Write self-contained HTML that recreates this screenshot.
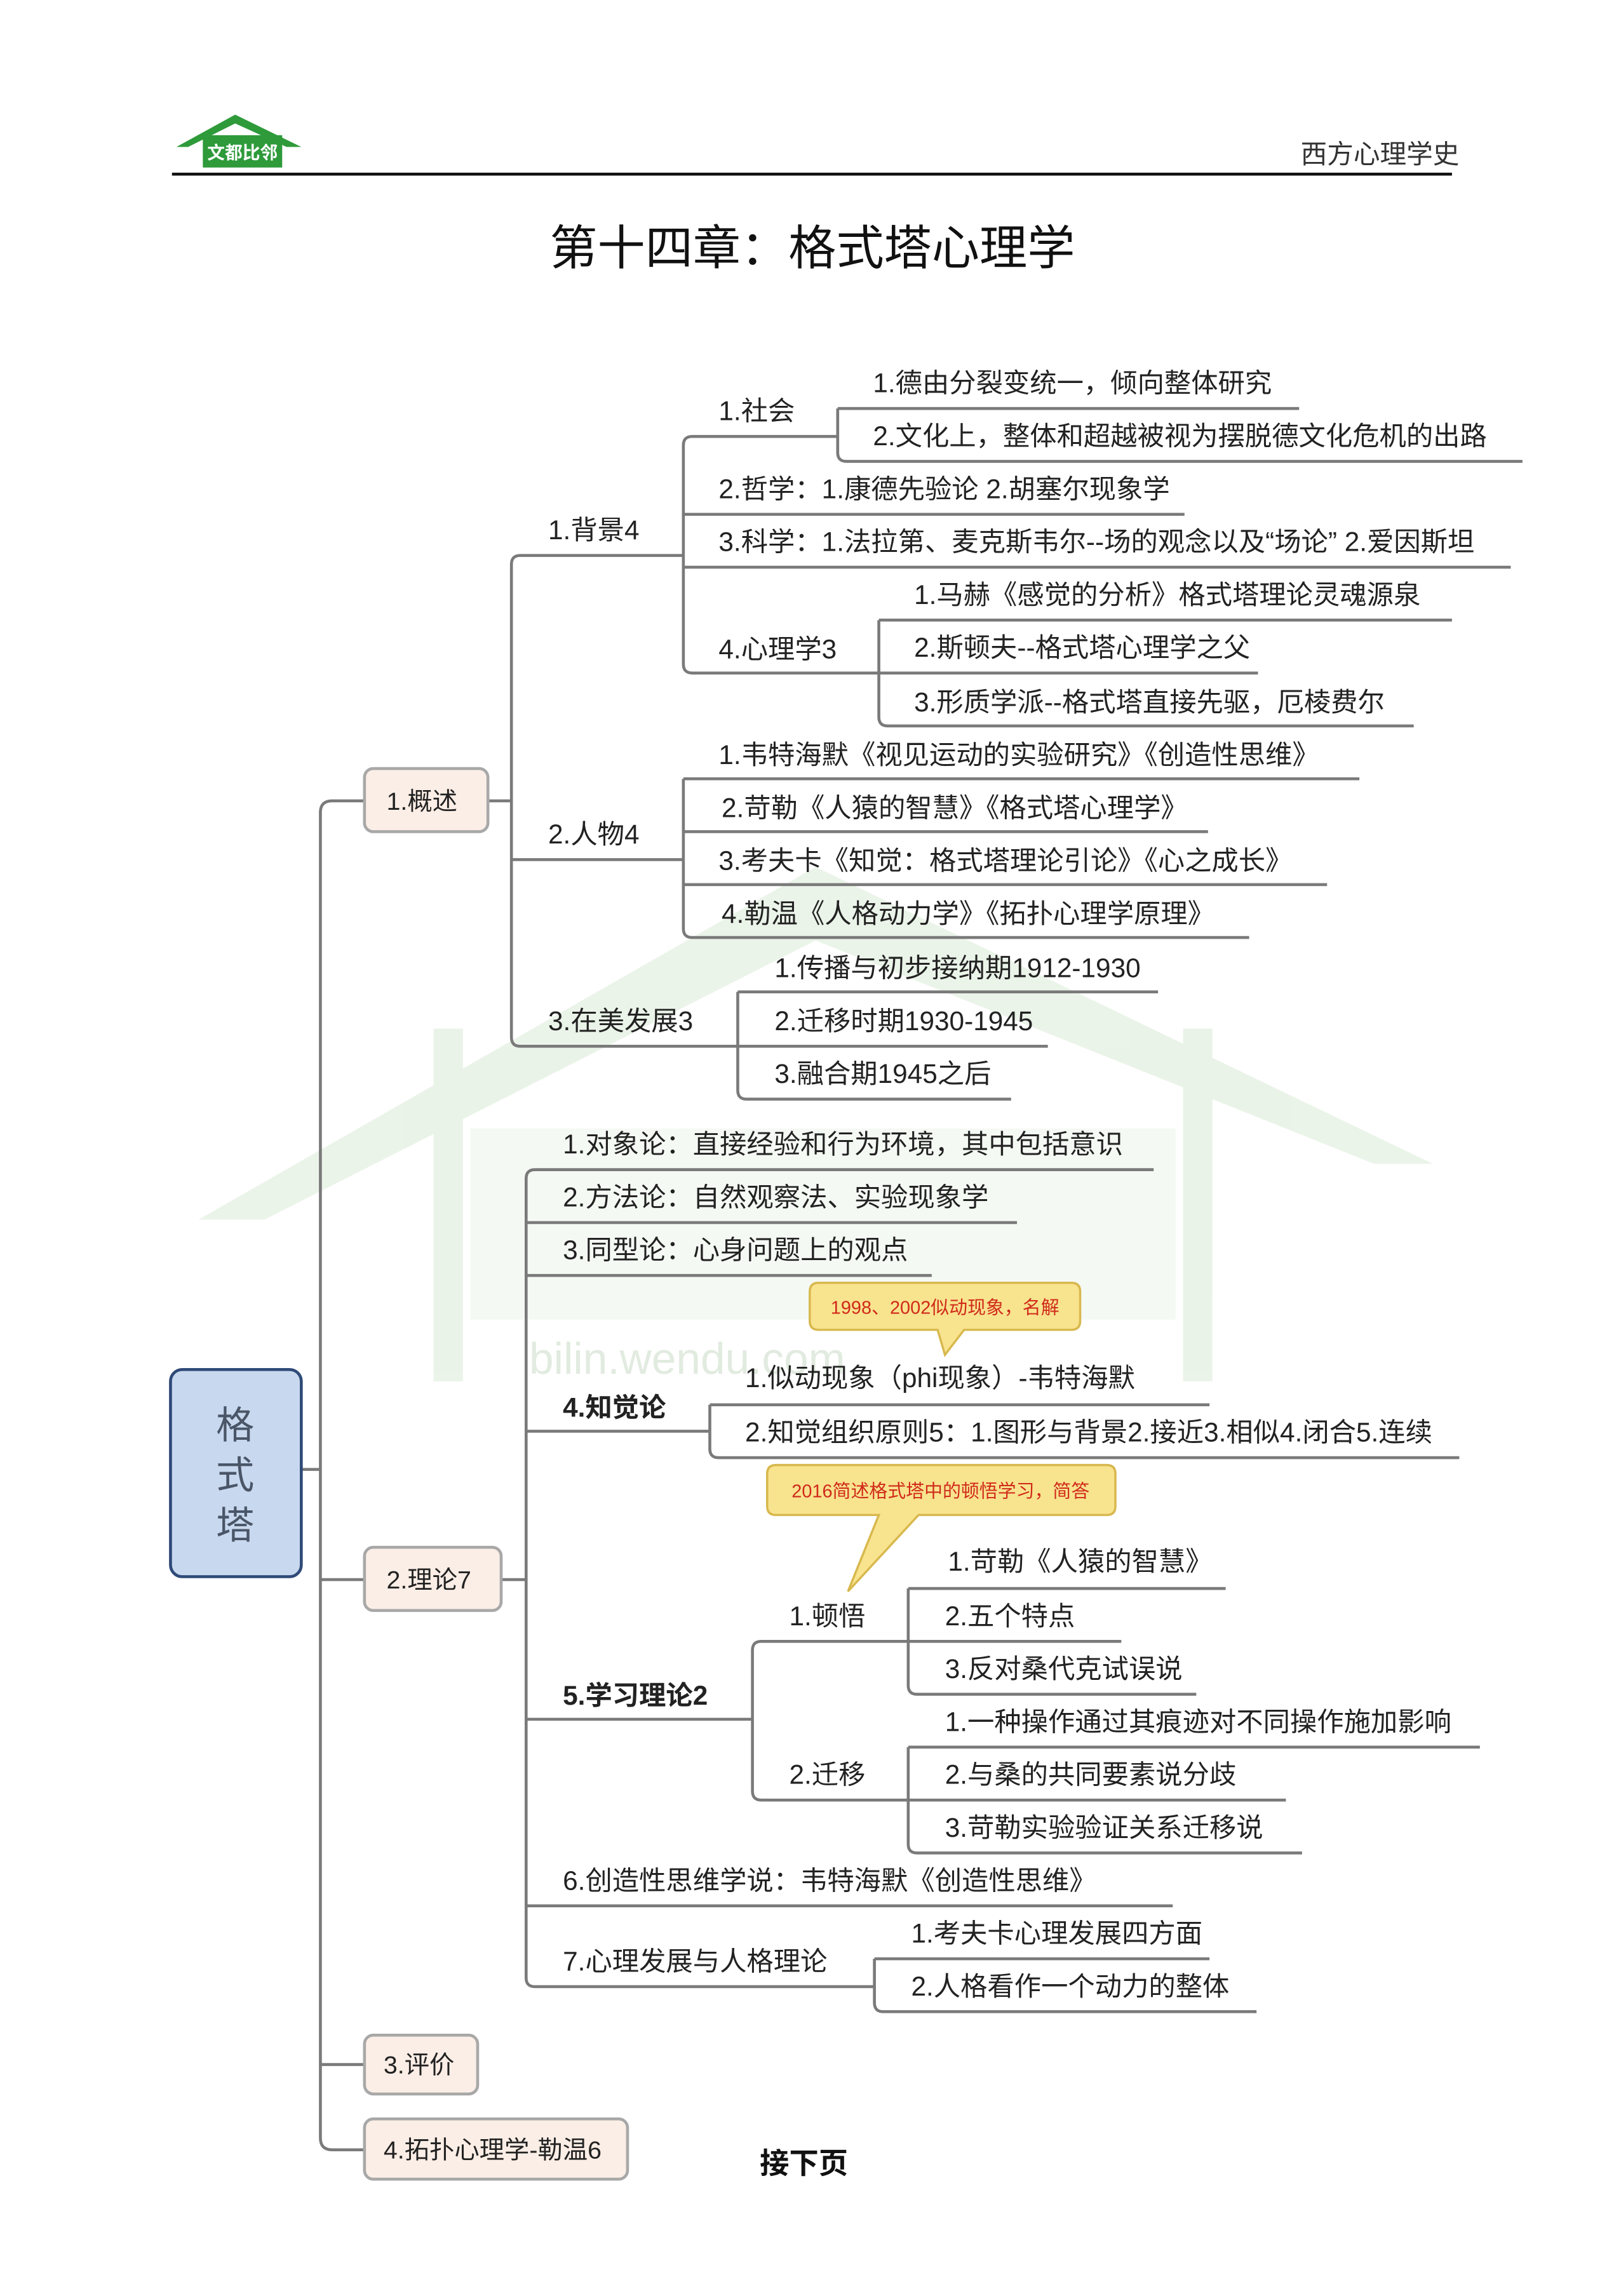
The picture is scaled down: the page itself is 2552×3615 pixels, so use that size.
<!DOCTYPE html>
<html><head><meta charset="utf-8"><style>
html,body{margin:0;padding:0;background:#fff}
svg{display:block}
text{font-family:"Liberation Sans","Noto Sans CJK SC",sans-serif;fill:#222}
</style></head><body>
<svg width="2552" height="3615" viewBox="0 0 1103 1562.5" xmlns="http://www.w3.org/2000/svg">
<rect width="1103" height="1562.5" fill="#fff"/>
<!-- watermark -->
<g opacity="0.11" fill="#4a9a3a">
<polygon points="135,830 555,590 975,792 935,792 555,640 180,830"/>
<rect x="295" y="700" width="20" height="240"/>
<rect x="805" y="700" width="20" height="240"/>
<rect x="320" y="768" width="480" height="130" opacity="0.5"/>
</g>
<text x="360" y="935" font-size="30" style="fill:#e2ebe0" font-family="Liberation Sans">bilin.wendu.com</text>
<!-- logo -->
<polygon points="120,100 160,78 205,100 195,100 160,84 128,100" fill="#2e9a3a"/>
<rect x="138" y="92" width="54" height="22" fill="#2e9a3a"/>
<text x="141" y="108" font-size="12" style="fill:#fff;font-weight:bold">文都比邻</text>
<!-- header -->
<line x1="117" y1="118.5" x2="988" y2="118.5" stroke="#111" stroke-width="2"/>
<text x="885" y="111" font-size="18" style="fill:#333">西方心理学史</text>
<text x="374" y="180" font-size="32.5" style="fill:#111">第十四章：格式塔心理学</text>

<g stroke="#7a7a7a" stroke-width="2" fill="none">
<line x1="205" y1="1000" x2="218" y2="1000"/>
<path d="M248,545 H226 Q218,545 218,553 V1455 Q218,1463 226,1463 H248"/>
<line x1="218" y1="1075" x2="248" y2="1075"/>
<line x1="218" y1="1405" x2="248" y2="1405"/>
<line x1="332" y1="545" x2="348" y2="545"/>
<path d="M465,378 H354 Q348,378 348,384 V706 Q348,712 354,712 H502"/>
<line x1="348" y1="585" x2="465" y2="585"/>
<path d="M570,297 H471 Q465,297 465,303 V452 Q465,458 471,458 H598"/>
<line x1="465" y1="350" x2="806" y2="350"/>
<line x1="465" y1="386" x2="1028" y2="386"/>
<line x1="570" y1="278" x2="884" y2="278"/>
<path d="M570,278 V308 Q570,314 576,314 H1036"/>
<line x1="598" y1="422" x2="988" y2="422"/>
<line x1="598" y1="458" x2="856" y2="458"/>
<path d="M598,422 V488 Q598,494 604,494 H962"/>
<line x1="465" y1="530" x2="925" y2="530"/>
<path d="M465,530 V632 Q465,638 471,638 H850"/>
<line x1="465" y1="566" x2="822" y2="566"/>
<line x1="465" y1="602" x2="903" y2="602"/>
<line x1="502" y1="675" x2="788" y2="675"/>
<line x1="502" y1="712" x2="713" y2="712"/>
<path d="M502,675 V742 Q502,748 508,748 H688"/>
<line x1="341" y1="1075" x2="358" y2="1075"/>
<path d="M785,796 H364 Q358,796 358,802 V1346 Q358,1352 364,1352 H595"/>
<line x1="358" y1="832" x2="692" y2="832"/>
<line x1="358" y1="868" x2="634" y2="868"/>
<line x1="358" y1="974" x2="483" y2="974"/>
<line x1="483" y1="956" x2="823" y2="956"/>
<path d="M483,956 V986 Q483,992 489,992 H993"/>
<line x1="358" y1="1170" x2="512" y2="1170"/>
<path d="M618,1117 H518 Q512,1117 512,1123 V1219 Q512,1225 518,1225 H618"/>
<line x1="618" y1="1081" x2="834" y2="1081"/>
<line x1="618" y1="1117" x2="763" y2="1117"/>
<path d="M618,1081 V1147 Q618,1153 624,1153 H814"/>
<line x1="618" y1="1189" x2="1007" y2="1189"/>
<line x1="618" y1="1225" x2="875" y2="1225"/>
<path d="M618,1189 V1255 Q618,1261 624,1261 H886"/>
<line x1="358" y1="1297" x2="798" y2="1297"/>
<line x1="595" y1="1333" x2="823" y2="1333"/>
<path d="M595,1333 V1363 Q595,1369 601,1369 H855"/>
</g>

<rect x="116" y="932" width="89" height="141" rx="8" fill="#c8d8ee" stroke="#2f4a78" stroke-width="2"/>
<text x="160" y="979" font-size="26" text-anchor="middle" style="fill:#4a5668">格</text>
<text x="160" y="1013" font-size="26" text-anchor="middle" style="fill:#4a5668">式</text>
<text x="160" y="1047" font-size="26" text-anchor="middle" style="fill:#4a5668">塔</text>
<g fill="#fbeee6" stroke="#a8a8a8" stroke-width="2">
<rect x="248" y="523" width="84" height="43" rx="6"/>
<rect x="248" y="1053" width="93" height="43" rx="6"/>
<rect x="248" y="1385" width="77" height="40" rx="6"/>
<rect x="248" y="1442" width="179" height="41" rx="6"/>
</g>
<g font-size="17">
<text x="263" y="551">1.概述</text>
<text x="263" y="1081">2.理论7</text>
<text x="261" y="1411">3.评价</text>
<text x="261" y="1469">4.拓扑心理学-勒温6</text>
</g>

<g font-size="18.3">
<text x="373" y="367">1.背景4</text>
<text x="489" y="286">1.社会</text>
<text x="594" y="267">1.德由分裂变统一，倾向整体研究</text>
<text x="594" y="303">2.文化上，整体和超越被视为摆脱德文化危机的出路</text>
<text x="489" y="339">2.哲学：1.康德先验论 2.胡塞尔现象学</text>
<text x="489" y="375">3.科学：1.法拉第、麦克斯韦尔--场的观念以及“场论” 2.爱因斯坦</text>
<text x="489" y="448">4.心理学3</text>
<text x="622" y="411">1.马赫《感觉的分析》格式塔理论灵魂源泉</text>
<text x="622" y="447">2.斯顿夫--格式塔心理学之父</text>
<text x="622" y="484">3.形质学派--格式塔直接先驱，厄棱费尔</text>
<text x="373" y="574">2.人物4</text>
<text x="489" y="520">1.韦特海默《视见运动的实验研究》《创造性思维》</text>
<text x="491" y="556">2.苛勒《人猿的智慧》《格式塔心理学》</text>
<text x="489" y="592">3.考夫卡《知觉：格式塔理论引论》《心之成长》</text>
<text x="491" y="628">4.勒温《人格动力学》《拓扑心理学原理》</text>
<text x="373" y="701">3.在美发展3</text>
<text x="527" y="665">1.传播与初步接纳期1912-1930</text>
<text x="527" y="701">2.迁移时期1930-1945</text>
<text x="527" y="737">3.融合期1945之后</text>

<text x="383" y="785">1.对象论：直接经验和行为环境，其中包括意识</text>
<text x="383" y="821">2.方法论：自然观察法、实验现象学</text>
<text x="383" y="857">3.同型论：心身问题上的观点</text>
<text x="383" y="964" style="font-weight:bold">4.知觉论</text>
<text x="507" y="944">1.似动现象（phi现象）-韦特海默</text>
<text x="507" y="981">2.知觉组织原则5：1.图形与背景2.接近3.相似4.闭合5.连续</text>
<text x="383" y="1160" style="font-weight:bold">5.学习理论2</text>
<text x="537" y="1106">1.顿悟</text>
<text x="645" y="1069">1.苛勒《人猿的智慧》</text>
<text x="643" y="1106">2.五个特点</text>
<text x="643" y="1142">3.反对桑代克试误说</text>
<text x="537" y="1214">2.迁移</text>
<text x="643" y="1178">1.一种操作通过其痕迹对不同操作施加影响</text>
<text x="643" y="1214">2.与桑的共同要素说分歧</text>
<text x="643" y="1250">3.苛勒实验验证关系迁移说</text>
<text x="383" y="1286">6.创造性思维学说：韦特海默《创造性思维》</text>
<text x="383" y="1341">7.心理发展与人格理论</text>
<text x="620" y="1322">1.考夫卡心理发展四方面</text>
<text x="620" y="1358">2.人格看作一个动力的整体</text>
</g>

<g fill="#f8e38e" stroke="#d8b84e" stroke-width="1.5">
<path d="M557,873 H729 Q735,873 735,879 V899 Q735,905 729,905 H656 L643,922 L638,905 H557 Q551,905 551,899 V879 Q551,873 557,873 Z"/>
<path d="M528,997 H753 Q759,997 759,1003 V1025 Q759,1031 753,1031 H625 L577,1083 L598,1031 H528 Q522,1031 522,1025 V1003 Q522,997 528,997 Z"/>
</g>
<text x="643" y="894" font-size="12.5" text-anchor="middle" style="fill:#d02a1a">1998、2002似动现象，名解</text>
<text x="640" y="1019" font-size="12.5" text-anchor="middle" style="fill:#d02a1a">2016简述格式塔中的顿悟学习，简答</text>

<text x="517" y="1479" font-size="20" style="font-weight:bold;fill:#111">接下页</text>
</svg>
</body></html>
